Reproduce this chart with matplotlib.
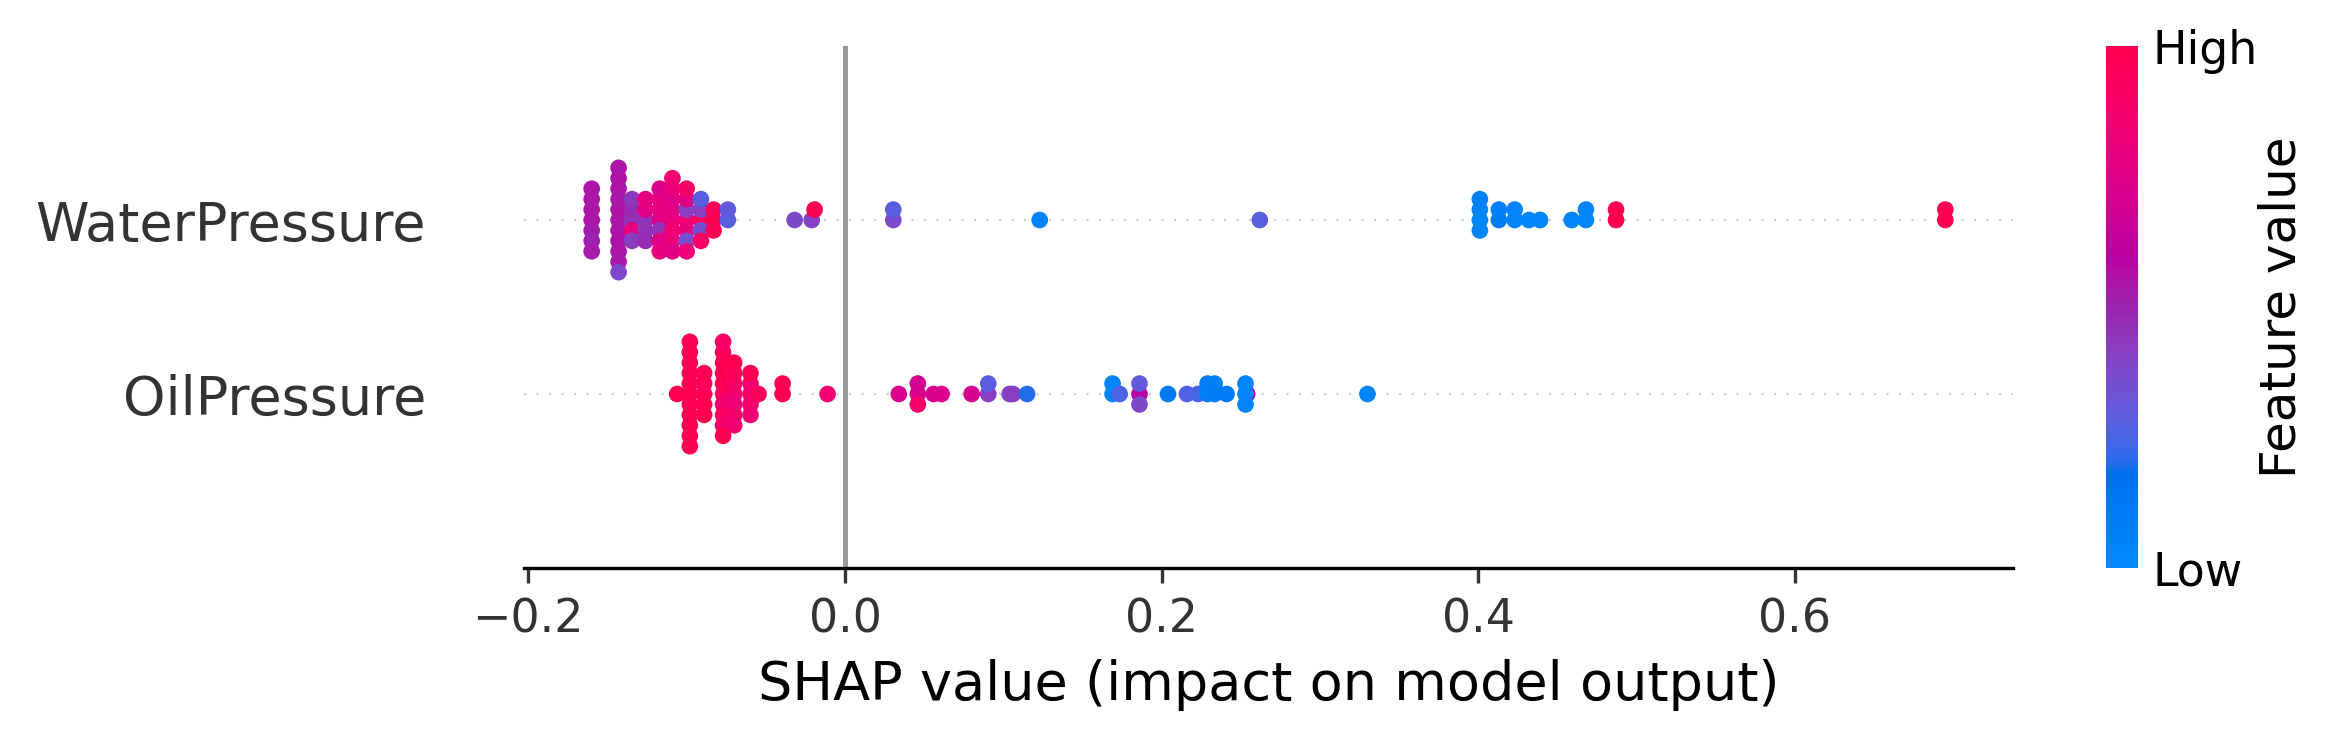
import numpy as np
import matplotlib
matplotlib.use("Agg")
import matplotlib.pyplot as plt
from matplotlib.colors import LinearSegmentedColormap
from matplotlib.cm import ScalarMappable

# rows from bottom to top
features = ["OilPressure", "WaterPressure"]

water_shap = [
    -0.160, -0.160, -0.160, -0.160, -0.160, -0.160, -0.160,
    -0.143, -0.143, -0.143, -0.143, -0.143, -0.143, -0.143, -0.143, -0.143, -0.143, -0.143,
    -0.1345, -0.1345, -0.1345, -0.1345, -0.1345,
    -0.126, -0.126, -0.126, -0.126, -0.126,
    -0.117, -0.117, -0.117, -0.117, -0.117, -0.117, -0.117,
    -0.109, -0.109, -0.109, -0.109, -0.109, -0.109, -0.109, -0.109,
    -0.100, -0.100, -0.100, -0.100, -0.100, -0.100, -0.100,
    -0.091, -0.091, -0.091, -0.091, -0.091,
    -0.083, -0.083, -0.083,
    -0.074, -0.074,
    -0.0318, -0.0210, -0.0192,
    0.0305, 0.0305, 0.123, 0.262,
    0.401, 0.401, 0.401, 0.401, 0.413, 0.413, 0.423, 0.423,
    0.432, 0.439, 0.459, 0.468, 0.468,
    0.487, 0.487, 0.695, 0.695,
]
water_value = [
    0.55, 0.55, 0.52, 0.55, 0.50, 0.55, 0.53,
    0.55, 0.56, 0.55, 0.54, 0.56, 0.55, 0.55, 0.56, 0.54, 0.55, 0.38,
    0.45, 0.48, 0.78, 0.44, 0.42,
    0.45, 0.75, 0.46, 0.78, 0.48,
    0.75, 0.78, 0.45, 0.80, 0.75, 0.72, 0.78,
    0.80, 0.78, 0.85, 0.75, 0.82, 0.80, 0.76, 0.85,
    0.85, 0.42, 0.80, 0.75, 0.35, 0.90, 0.82,
    0.95, 0.42, 0.35, 0.28, 0.90,
    1.00, 0.97, 0.98,
    0.28, 0.30,
    0.38, 0.40, 1.00,
    0.38, 0.28, 0.05, 0.28,
    0.05, 0.05, 0.05, 0.08, 0.10, 0.08, 0.05, 0.05,
    0.05, 0.05, 0.05, 0.05, 0.05,
    1.00, 1.00, 1.00, 1.00,
]

oil_shap = [
    -0.106,
    -0.098, -0.098, -0.098, -0.098, -0.098, -0.098, -0.098, -0.098, -0.098, -0.098, -0.098,
    -0.089, -0.089, -0.089, -0.089, -0.089,
    -0.077, -0.077, -0.077, -0.077, -0.077, -0.077, -0.077, -0.077, -0.077, -0.077,
    -0.070, -0.070, -0.070, -0.070, -0.070, -0.070, -0.070,
    -0.0597, -0.0597, -0.0597, -0.0597, -0.0597,
    -0.0546, -0.0394, -0.0394, -0.011,
    0.034, 0.046, 0.046, 0.046, 0.056, 0.061, 0.080,
    0.0905, 0.0905, 0.104, 0.106, 0.115,
    0.169, 0.169, 0.1735, 0.186, 0.186, 0.186,
    0.204, 0.216, 0.223, 0.229, 0.229, 0.2335, 0.2335, 0.241,
    0.2540, 0.253, 0.253, 0.253, 0.330,
]
oil_value = [
    1.00,
    1.00, 1.00, 0.98, 1.00, 1.00, 0.97, 1.00, 1.00, 1.00, 0.98, 1.00,
    1.00, 0.95, 1.00, 0.98, 1.00,
    0.90, 1.00, 0.85, 1.00, 0.92, 1.00, 0.88, 0.95, 1.00, 0.90,
    0.85, 0.90, 0.82, 0.95, 0.88, 1.00, 0.85,
    0.90, 0.85, 0.88, 1.00, 0.85,
    0.95, 1.00, 1.00, 0.85,
    0.72, 0.72, 0.70, 0.88, 0.70, 0.72, 0.70,
    0.42, 0.28, 0.40, 0.42, 0.20,
    0.05, 0.05, 0.25, 0.60, 0.30, 0.38,
    0.12, 0.26, 0.24, 0.08, 0.10, 0.10, 0.08, 0.12,
    0.60, 0.05, 0.05, 0.05, 0.05,
]


# shap style red-blue colormap, built in LCH space
def lch_to_rgb(l, c, h):
    a, b = c * np.cos(h), c * np.sin(h)
    fy = (l + 16.0) / 116.0
    fx = a / 500.0 + fy
    fz = fy - b / 200.0
    xyz = []
    for f in (fx, fy, fz):
        f = max(f, 0.0)
        xyz.append(f ** 3 if f > 0.2068966 else (f - 16.0 / 116.0) / 7.787)
    xyz = np.array(xyz) * np.array([0.95047, 1.0, 1.08883])
    m = np.array([[3.24048134, -1.53715152, -0.49853633],
                  [-0.96925495, 1.87599, 0.04155593],
                  [0.05564664, -0.20404134, 1.05731107]])
    rgb = m @ xyz
    rgb = np.where(rgb > 0.0031308, 1.055 * np.power(np.clip(rgb, 1e-12, None), 1 / 2.4) - 0.055, 12.92 * rgb)
    return np.clip(rgb, 0, 1)


nsteps = 100
l_vals = list(np.linspace(54.0, 40.0, nsteps // 2)) + list(np.linspace(40.0, 54.0, nsteps // 2))
c_vals = np.linspace(70.0, 90.0, nsteps)
h_vals = np.linspace(4.6588, 0.35470565 + 2 * np.pi, nsteps)
cols = [lch_to_rgb(l, c, h) for l, c, h in zip(l_vals, c_vals, h_vals)]
red_blue = LinearSegmentedColormap.from_list("red_blue", list(zip(np.linspace(0, 1, nsteps), cols)))


def swarm_offsets(x, row_height=0.4, nbins=100):
    x = np.asarray(x)
    quant = np.round(nbins * (x - x.min()) / (x.max() - x.min() + 1e-8))
    ys = np.zeros(len(x))
    layer = 0
    last = -1
    for i in np.argsort(quant, kind="stable"):
        if quant[i] != last:
            layer = 0
        ys[i] = np.ceil(layer / 2) * ((layer % 2) * 2 - 1)
        layer += 1
        last = quant[i]
    return ys * 0.9 * (row_height / np.max(ys + 1))


fig = plt.figure(figsize=(2335 / 300, 741 / 300), dpi=300)
ax = fig.add_axes([524 / 2335, 1 - 568 / 741, (2013 - 524) / 2335, (568 - 46) / 741])
cax = fig.add_axes([2106 / 2335, 1 - 568 / 741, 32 / 2335, (568 - 46) / 741])

ax.axvline(0, color="#999999", lw=1.2, zorder=-1)
rows = [(oil_shap, oil_value), (water_shap, water_value)]
for pos, (sv, fv) in enumerate(rows):
    ax.axhline(pos, color="#cccccc", lw=0.5, dashes=(1, 5), zorder=-1)
    ys = swarm_offsets(sv)
    ax.scatter(sv, pos + ys, c=fv, cmap=red_blue, vmin=0, vmax=1, s=16,
               linewidth=0, alpha=1, zorder=3, rasterized=True)

axis_color = "#333333"
ax.xaxis.set_ticks_position("bottom")
ax.yaxis.set_ticks_position("none")
for s in ["right", "top", "left"]:
    ax.spines[s].set_visible(False)
ax.tick_params(color=axis_color, labelcolor=axis_color)
ax.set_yticks(range(len(features)))
ax.set_yticklabels(features, fontsize=13)
ax.tick_params("y", length=20, width=0.5, which="major")
ax.tick_params("x", labelsize=11)
ax.set_ylim(-1, len(features))
ax.set_xlabel("SHAP value (impact on model output)", fontsize=13)

m = ScalarMappable(cmap=red_blue)
m.set_array([0, 1])
cb = fig.colorbar(m, cax=cax, ticks=[0, 1])
cb.set_ticklabels(["Low", "High"])
cb.set_label("Feature value", size=12, labelpad=0)
cb.ax.tick_params(labelsize=11, length=0)
cb.outline.set_visible(False)

fig.savefig("out.png", dpi=300)
